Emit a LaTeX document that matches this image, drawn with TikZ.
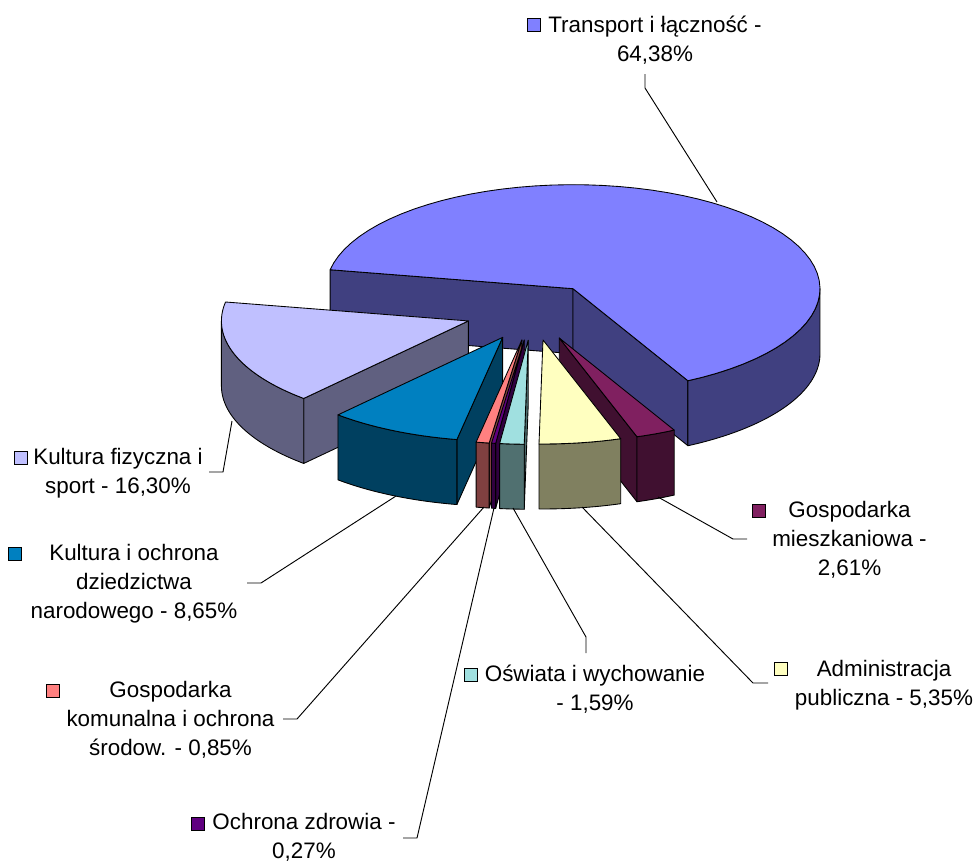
\documentclass[tikz,border=0pt]{standalone}
\usepackage{fontspec}
\setmainfont{Liberation Sans}
\usetikzlibrary{positioning}

\definecolor{transportTop}{HTML}{8080FF}
\definecolor{transportSide}{HTML}{404080}
\definecolor{mieszkTop}{HTML}{802060}
\definecolor{mieszkSide}{HTML}{401030}
\definecolor{adminTop}{HTML}{FFFFC0}
\definecolor{adminSide}{HTML}{808060}
\definecolor{oswiataTop}{HTML}{A0E0E0}
\definecolor{oswiataSide}{HTML}{507070}
\definecolor{zdrowieTop}{HTML}{600080}
\definecolor{zdrowieSide}{HTML}{300040}
\definecolor{komunalnaTop}{HTML}{FF8080}
\definecolor{komunalnaSide}{HTML}{804040}
\definecolor{kulturaTop}{HTML}{0080C0}
\definecolor{kulturaSide}{HTML}{004060}
\definecolor{sportTop}{HTML}{C0C0FF}
\definecolor{sportSide}{HTML}{606080}

% one slice of the exploded pie: start angle, share in %, top colour, side colour
\newcommand{\pieslice}[4]{%
  \pgfmathsetmacro{\angA}{#1}%
  \pgfmathsetmacro{\angB}{#1+3.6*#2}%
  \pgfmathsetmacro{\angM}{(\angA+\angB)/2}%
  \pgfmathsetmacro{\apx}{532.7+0.275*247*cos(\angM)}%
  \pgfmathsetmacro{\apy}{311.7+0.275*104*sin(\angM)}%
  \pgfmathsetmacro{\wallA}{\angB>360 ? max(\angA,360) : \angA}%
  \pgfmathsetmacro{\wallB}{\angB>360 ? \angB : min(\angB,180)}%
  \pgfmathtruncatemacro{\showS}{cos(\angA)<0}%
  \pgfmathtruncatemacro{\showE}{cos(\angB)>0}%
  \ifnum\showS=1
    \draw[pie face,fill=#4] (\apx,\apy) -- ({\apx+247*cos(\angA)},{\apy+104*sin(\angA)})
      -- ++(0,65) -- ({\apx},{\apy+65}) -- cycle;
  \fi
  \ifnum\showE=1
    \draw[pie face,fill=#4] (\apx,\apy) -- ({\apx+247*cos(\angB)},{\apy+104*sin(\angB)})
      -- ++(0,65) -- ({\apx},{\apy+65}) -- cycle;
  \fi
  \draw[pie face,fill=#4] plot[domain=\wallA:\wallB,samples=60] ({\apx+247*cos(\x)},{\apy+104*sin(\x)})
    -- plot[domain=\wallB:\wallA,samples=60] ({\apx+247*cos(\x)},{\apy+104*sin(\x)+65}) -- cycle;
  \draw[pie face,fill=#3] (\apx,\apy)
    -- plot[domain=\angA:\angB,samples=60] ({\apx+247*cos(\x)},{\apy+104*sin(\x)}) -- cycle;
}

\begin{document}
\begin{tikzpicture}[x=0.75pt,y=-0.75pt,
  pie face/.style={draw=black,line width=0.65pt,line join=round},
  label node/.style={align=center,anchor=base,inner sep=0pt,
    font=\fontsize{16.8}{21.4}\selectfont},
  key box/.style={draw=black,line width=0.6pt,minimum size=9.75pt,inner sep=0pt},
  leader line/.style={draw=black,line width=0.7pt}]

  \fill[white] (0,0) rectangle (978,865);
  \useasboundingbox (0,0) rectangle (978,865);

  % slices, back to front
  \pieslice{190.5}{64.38}{transportTop}{transportSide}
  \pieslice{131.82}{16.30}{sportTop}{sportSide}
  \pieslice{100.68}{8.65}{kulturaTop}{kulturaSide}
  \pieslice{62.268}{2.61}{mieszkTop}{mieszkSide}
  \pieslice{97.62}{0.85}{komunalnaTop}{komunalnaSide}
  \pieslice{71.664}{5.35}{adminTop}{adminSide}
  \pieslice{96.648}{0.27}{zdrowieTop}{zdrowieSide}
  \pieslice{90.924}{1.59}{oswiataTop}{oswiataSide}

  % labels (base = last line)
  \node[label node] (transport) at (655,61) {Transport i łączność -\\64,38\%};
  \node[key box,fill=transportTop] (transport key) at (533.5,24.5) {};
  \node[label node] (sport) at (118,493) {Kultura fizyczna i\\sport - 16,30\%};
  \node[key box,fill=sportTop] (sport key) at (20.5,457.5) {};
  \node[label node] (kultura) at (134,618) {Kultura i ochrona\\dziedzictwa\\narodowego - 8,65\%};
  \node[key box,fill=kulturaTop] (kultura key) at (15,554) {};
  \node[label node] (komunalna) at (170.5,755) {Gospodarka\\komunalna i ochrona\\środow. - 0,85\%};
  \node[key box,fill=komunalnaTop] (komunalna key) at (52.5,691) {};
  \node[label node] (zdrowie) at (304,858) {Ochrona zdrowia -\\0,27\%};
  \node[key box,fill=zdrowieTop] (zdrowie key) at (198,824) {};
  \node[label node] (oswiata) at (595,710) {Oświata i wychowanie\\- 1,59\%};
  \node[key box,fill=oswiataTop] (oswiata key) at (471,674.5) {};
  \node[label node] (admin) at (884,705) {Administracja\\publiczna - 5,35\%};
  \node[key box,fill=adminTop] (admin key) at (781,669) {};
  \node[label node] (mieszk) at (849.5,575) {Gospodarka\\mieszkaniowa -\\2,61\%};
  \node[key box,fill=mieszkTop] (mieszk key) at (758.5,510.5) {};

  % leader lines: label end, knee, slice end
  \foreach \name/\ax/\ay/\bx/\by/\cx/\cy in {
      transport/645/74/645/88/717/202,
      sport/209/472/223/472/232/421,
      kultura/247/583/261/583/396/496,
      komunalna/283/719/297/719/484/507,
      zdrowie/403/838/417/838/494/508,
      oswiata/586/653/586/637/513/508,
      admin/768/683/753/683/582/507,
      mieszk/747/539/733/539/658/497} {
    \coordinate (\name-from) at (\ax,\ay);
    \coordinate (\name-knee) at (\bx,\by);
    \coordinate (\name-to) at (\cx,\cy);
    \draw[leader line] (\name-from) -- (\name-knee) -- (\name-to);
  }
\end{tikzpicture}
\end{document}
